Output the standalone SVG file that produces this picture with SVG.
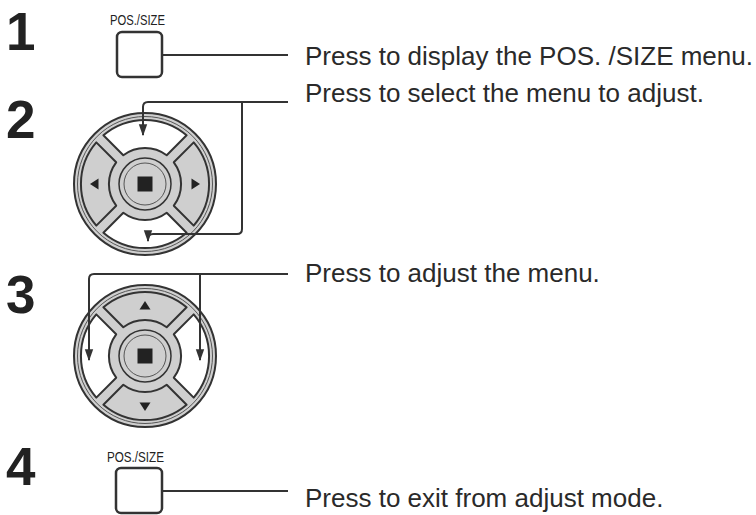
<svg xmlns="http://www.w3.org/2000/svg" width="756" height="515" viewBox="0 0 756 515">
<style>
.num{font-family:"Liberation Sans",Arial,sans-serif;font-weight:bold;font-size:53px;fill:#222}
.lbl{font-family:"Liberation Sans",Arial,sans-serif;font-size:26px;fill:#2a2a2a}
.cap{font-family:"Liberation Sans Narrow","Liberation Sans",sans-serif;font-size:15px;fill:#222}
.btn{fill:#fff;stroke:#333;stroke-width:2.5}
.ln{fill:none;stroke:#333;stroke-width:2}
.seg{stroke:#333;stroke-width:2;stroke-linejoin:round}
</style>
<defs>
<path id="segT" d="M-41.6,-48.7 A64,64 0 0 1 41.6,-48.7 L21.7,-28.8 A36,36 0 0 0 -21.7,-28.8 Z"/>
<g id="base">
<circle r="71" fill="#cfcfcf" stroke="#333" stroke-width="2"/>
<circle r="67.5" fill="none" stroke="#555" stroke-width="1"/>
<circle r="26" fill="#cfcfcf" stroke="#333" stroke-width="1.5"/>
<circle r="21" fill="none" stroke="#555" stroke-width="1"/>
<rect x="-7.5" y="-7.5" width="15" height="15" fill="#222"/>
</g>
<path id="tri" d="M-5.5,3.5 L5.5,3.5 L0,-5 Z" fill="#222"/>
<marker id="ah" viewBox="0 0 10 10" refX="9" refY="5" markerWidth="6" markerHeight="6" orient="auto"><path d="M0,1.5 L10,5 L0,8.5 Z" fill="#333"/></marker>
</defs>
<g id="step1">
<text class="num" x="6" y="50">1</text>
<text class="cap" x="110" y="25" textLength="55" lengthAdjust="spacingAndGlyphs">POS./SIZE</text>
<rect class="btn" x="117" y="32" width="45" height="45" rx="5"/>
<text class="lbl" x="305" y="65">Press to display the POS. /SIZE menu.</text>
</g>
<g id="step2">
<text class="num" x="6" y="138">2</text>
<g transform="translate(145,184)">
<use href="#base"/>
<use href="#segT" class="seg" fill="#fff"/>
<use href="#segT" class="seg" fill="#fff" transform="rotate(180)"/>
<use href="#segT" class="seg" fill="#cfcfcf" transform="rotate(90)"/>
<use href="#segT" class="seg" fill="#cfcfcf" transform="rotate(-90)"/>
<use href="#tri" transform="translate(-50,0) rotate(-90)"/>
<use href="#tri" transform="translate(50,0) rotate(90)"/>
</g>
<text class="lbl" x="305" y="102">Press to select the menu to adjust.</text>
</g>
<g id="step3">
<text class="num" x="6" y="313">3</text>
<g transform="translate(145,356)">
<use href="#base"/>
<use href="#segT" class="seg" fill="#cfcfcf"/>
<use href="#segT" class="seg" fill="#cfcfcf" transform="rotate(180)"/>
<use href="#segT" class="seg" fill="#fff" transform="rotate(90)"/>
<use href="#segT" class="seg" fill="#fff" transform="rotate(-90)"/>
<use href="#tri" transform="translate(0,-50)"/>
<use href="#tri" transform="translate(0,50) rotate(180)"/>
</g>
<text class="lbl" x="305" y="282">Press to adjust the menu.</text>
</g>
<g id="step4">
<text class="num" x="6" y="485">4</text>
<text class="cap" x="107" y="462" textLength="57" lengthAdjust="spacingAndGlyphs">POS./SIZE</text>
<rect class="btn" x="116" y="468" width="46" height="45" rx="5"/>
<text class="lbl" x="305" y="507">Press to exit from adjust mode.</text>
</g>
<g id="connectors">
<path class="ln" d="M162,55 H288"/>
<path class="ln" d="M288,102 H148 Q143,102 143,107 V135" marker-end="url(#ah)"/>
<path class="ln" d="M242,102 V229 Q242,234 237,234 H153 Q148,234 148,239 V241" marker-end="url(#ah)"/>
<path class="ln" d="M288,274 H94 Q89,274 89,279 V360" marker-end="url(#ah)"/>
<path class="ln" d="M200,274 V360" marker-end="url(#ah)"/>
<path class="ln" d="M162,491 H288"/>
</g>
</svg>
